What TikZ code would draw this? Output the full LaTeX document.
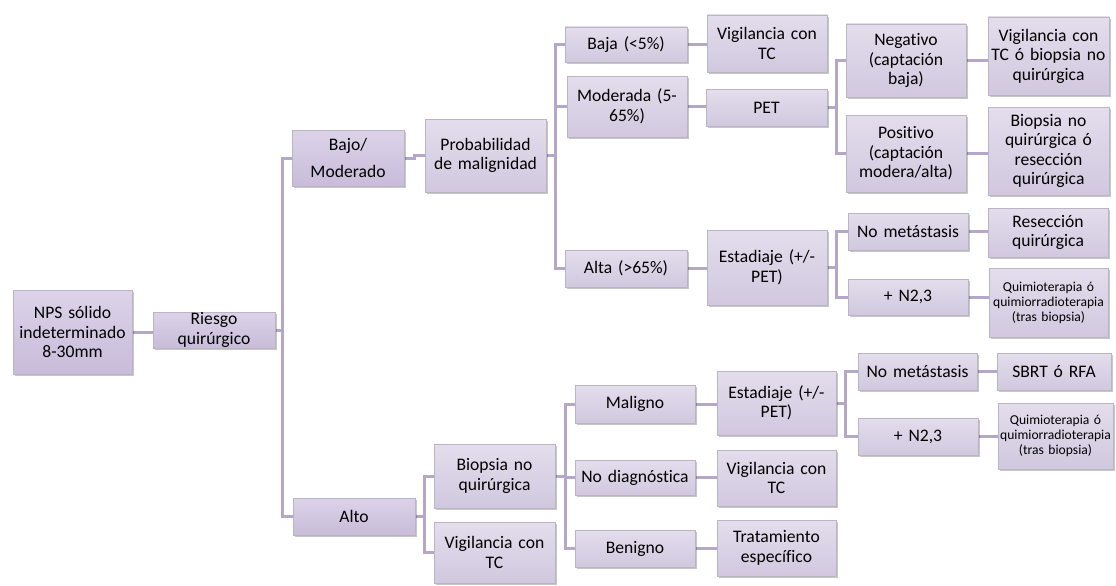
\documentclass[tikz,border=0pt]{standalone}
\usepackage{fontspec}
\setmainfont{Carlito}[Ligatures={NoCommon},RawFeature={-liga;-dlig}]
\usetikzlibrary{shadows,backgrounds}
\definecolor{boxtop}{HTML}{E3DDEC}
\definecolor{boxbot}{HTML}{D1C8DF}
\definecolor{darktop}{HTML}{DCD3E9}
\definecolor{darkbot}{HTML}{C8BCDA}
\definecolor{boxline}{HTML}{BAB5C2}
\definecolor{conn}{HTML}{B5A7C9}
\tikzset{
  box/.style={draw=boxline, line width=0.8pt, top color=boxtop, bottom color=boxbot,
    inner sep=0pt, align=center, font=\fontsize{17.6}{19.5}\selectfont,
    drop shadow={shadow xshift=1.5pt, shadow yshift=-2pt, fill=black, opacity=0.22}},
  dark/.style={top color=darktop, bottom color=darkbot},
  small/.style={font=\fontsize{13.6}{15}\selectfont},
  link/.style={draw=conn, line width=3pt}
}
\newcommand\bx[7][]{%
  \pgfmathsetmacro\bxW{#5-#3}\pgfmathsetmacro\bxH{#6-#4}%
  \pgfmathsetmacro\bxT{#5-#3-2}%
  \pgfmathsetmacro\bxX{(#3+#5)/2}\pgfmathsetmacro\bxY{(#4+#6)/2}%
  \node[box,#1,minimum width=\bxW pt,minimum height=\bxH pt,text width=\bxT pt] (#2) at (\bxX,\bxY) {#7};}
\begin{document}
\begin{tikzpicture}[x=1pt,y=-1pt]
\useasboundingbox (0,0) rectangle (1116,586);
\bx[dark]{nps}{13}{290}{132}{374}{NPS sólido\\indeterminado\\8-30mm}
\bx[dark]{riesgo}{153}{312}{275}{348}{Riesgo\\quirúrgico}
\bx[dark]{bajo}{292}{130}{404}{186}{Bajo/\\[8pt]Moderado}
\bx{prob}{425}{119}{546}{192}{Probabilidad\\de malignidad}
\bx{baja}{565}{27}{687}{62}{Baja (<5\%)}
\bx{vigA}{707}{15}{827}{72}{Vigilancia con\\TC}
\bx{mod}{567}{76}{687}{137}{Moderada (5-\\65\%)}
\bx{pet}{706}{89}{827}{126}{PET}
\bx{neg}{846}{24}{966}{97}{Negativo\\(captación\\baja)}
\bx{vigbio}{988}{17}{1109}{95}{Vigilancia con\\TC ó biopsia no\\quirúrgica}
\bx{pos}{846}{115}{966}{192}{Positivo\\(captación\\modera/alta)}
\bx{biores}{988}{107}{1109}{195}{Biopsia no\\quirúrgica ó\\resección\\quirúrgica}
\bx{alta}{565}{250}{687}{287}{Alta (>65\%)}
\bx{estA}{707}{230}{827}{305}{Estadiaje (+/-\\PET)}
\bx{nometA}{848}{213}{968}{250}{No metástasis}
\bx{res}{988}{208}{1108}{257}{Resección\\quirúrgica}
\bx{nA}{848}{279}{968}{315}{+ N2,3}
\bx[small]{quimA}{989}{268}{1108}{337}{Quimioterapia ó\\quimiorradioterapia\\(tras biopsia)}
\bx[dark]{alto}{293}{498}{415}{535}{Alto}
\bx{bio}{434}{444}{555}{508}{Biopsia no\\quirúrgica}
\bx{vigB}{434}{522}{555}{583}{Vigilancia con\\TC}
\bx{mal}{575}{385}{695}{423}{Maligno}
\bx{estB}{717}{371}{836}{435}{Estadiaje (+/-\\PET)}
\bx{nodiag}{575}{460}{695}{495}{No diagnóstica}
\bx{vigC}{717}{450}{836}{506}{Vigilancia con\\TC}
\bx{ben}{575}{530}{695}{567}{Benigno}
\bx{trat}{717}{520}{836}{576}{Tratamiento\\específico}
\bx{nometB}{858}{353}{977}{390}{No metástasis}
\bx{sbrt}{997}{353}{1111}{390}{SBRT ó RFA}
\bx{nB}{858}{418}{978}{455}{+ N2,3}
\bx[small]{quimB}{998}{403}{1113}{469}{Quimioterapia ó\\quimiorradioterapia\\(tras biopsia)}
\begin{pgfonlayer}{background}
\draw[link] (nps.east) -- (nps.east -| riesgo.west);
\draw[link] (riesgo.east) -- ++(7,0) |- (bajo.west);
\draw[link] (riesgo.east) -- ++(7,0) |- (alto.west);
\draw[link] (bajo.east) -- ++(10,0) |- (prob.west);
\draw[link] (prob.east) -- ++(9,0) |- (baja.west);
\draw[link] (prob.east) -- ++(9,0) |- (mod.west);
\draw[link] (prob.east) -- ++(9,0) |- (alta.west);
\draw[link] (baja.east) -- (baja.east -| vigA.west);
\draw[link] (mod.east) -- (mod.east -| pet.west);
\draw[link] (pet.east) -- ++(9,0) |- (neg.west);
\draw[link] (pet.east) -- ++(9,0) |- (pos.west);
\draw[link] (neg.east) -- (neg.east -| vigbio.west);
\draw[link] (pos.east) -- (pos.east -| biores.west);
\draw[link] (alta.east) -- (alta.east -| estA.west);
\draw[link] (estA.east) -- ++(9,0) |- (nometA.west);
\draw[link] (estA.east) -- ++(9,0) |- (nA.west);
\draw[link] (nometA.east) -- (nometA.east -| res.west);
\draw[link] (nA.east) -- (nA.east -| quimA.west);
\draw[link] (alto.east) -- ++(9,0) |- (bio.west);
\draw[link] (alto.east) -- ++(9,0) |- (vigB.west);
\draw[link] (bio.east) -- ++(10,0) |- (mal.west);
\draw[link] (bio.east) -- ++(10,0) |- (nodiag.west);
\draw[link] (bio.east) -- ++(10,0) |- (ben.west);
\draw[link] (mal.east) -- (mal.east -| estB.west);
\draw[link] (nodiag.east) -- (nodiag.east -| vigC.west);
\draw[link] (ben.east) -- (ben.east -| trat.west);
\draw[link] (estB.east) -- ++(9,0) |- (nometB.west);
\draw[link] (estB.east) -- ++(9,0) |- (nB.west);
\draw[link] (nometB.east) -- (nometB.east -| sbrt.west);
\draw[link] (nB.east) -- (nB.east -| quimB.west);
\end{pgfonlayer}
\end{tikzpicture}
\end{document}
